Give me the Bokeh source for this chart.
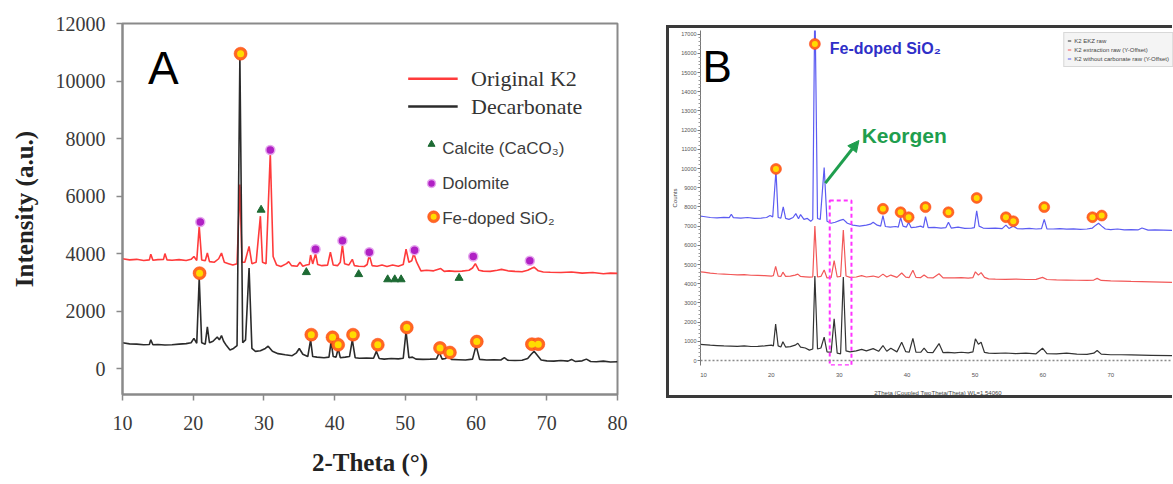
from bokeh.plotting import figure
from bokeh.models import (Range1d, Label, Arrow, NormalHead, Span, Legend, LegendItem,
                          FixedTicker, Spacer)
from bokeh.layouts import row, column
from bokeh.embed import file_html
from bokeh.resources import INLINE

# ---------------- Panel A data ----------------
a_red_x = [10, 11, 12, 13, 13.8, 14.0, 14.3, 15, 15.8, 16.0, 16.3, 17, 18, 19, 19.7, 20.1, 20.5, 20.85,
           21.2, 21.7, 22.0, 22.3, 23.0, 23.6, 24.0, 24.4, 25.0, 25.6, 26.2,
           26.6, 26.9, 27.3, 27.9, 28.3, 28.9, 29.5, 29.8, 30.3, 30.9, 31.3, 31.8, 32.4, 33.2, 33.5,
           33.9, 34.7, 35.1, 35.5, 36.0,
           36.4, 36.6, 36.9, 37.3, 37.6, 38.2, 39.0, 39.4, 39.8, 40.4, 40.8, 41.1, 41.4, 42.0, 42.5,
           42.8, 43.4, 44.2, 44.6, 44.9, 45.3, 46.0, 46.7, 47.4, 48.2, 49.0, 49.7, 50.1, 50.5, 50.9,
           51.2, 51.6, 52.2,
           53.0, 54.0, 55.0, 55.5, 56.2, 57.0, 58.0, 59.0, 59.5, 59.9, 60.4, 61.0, 62.0, 63.0, 63.6,
           64.5, 65.5, 66.5, 67.3, 67.8, 68.2, 68.8, 69.5, 70.5, 72.0, 73.5, 75.0, 76.5, 78.0, 79.0, 80.0]
a_red_y = [3820, 3780, 3800, 3760, 3780, 3980, 3770, 3790, 3800, 4000, 3780, 3770, 3790, 3760, 3800, 3900, 3760, 4950,
           3780, 3750, 4020, 3720, 3700, 3820, 4020, 3700, 3650, 3600, 3650,
           6400, 3700, 3700, 4250, 3650, 3700, 5300, 3700, 3650, 7500, 3900, 3600, 3550, 3650, 3720,
           3580, 3560, 3700, 3560, 3600,
           3620, 3950, 3640, 4000, 3620, 3580, 3600, 4050, 3600, 3580, 3700, 4300, 3650, 3600, 3800,
           3580, 3560, 3550, 3620, 3950, 3580, 3560, 3600, 3550, 3600, 3560, 3620, 4150, 3700, 3750,
           4000, 3700, 3400,
           3420, 3400, 3480, 3380, 3400, 3380, 3390, 3420, 3500, 3650, 3420, 3390, 3380, 3420, 3450,
           3400, 3380, 3370, 3420, 3480, 3530, 3400, 3360, 3350, 3340, 3360, 3320, 3340, 3300, 3320, 3310]

a_blk_x = [10, 11, 12, 13, 13.8, 14.0, 14.3, 15, 16, 17, 18, 19, 19.7, 20.1, 20.5, 20.85, 21.2, 21.7,
           22.0, 22.3, 22.8, 23.4, 23.7, 24.0, 24.3, 24.7, 25.2, 25.7, 26.2,
           26.6, 27.0, 27.4, 27.9, 28.3, 28.8, 29.5, 30.2, 30.6, 31.2, 32.0, 33.0, 34.0, 34.6, 35.0,
           35.5, 36.2, 36.6, 36.9, 37.5, 38.5, 39.2, 39.5, 39.8, 40.2, 40.5, 40.8, 41.5, 42.1, 42.5,
           42.9, 43.5, 44.5, 45.5, 45.9, 46.3, 47.0, 48.0, 49.0, 49.7, 50.1, 50.5, 51.0,
           51.5, 52.5, 53.5, 54.4, 54.8, 55.2, 55.7, 56.1, 56.5, 57.5, 58.5, 59.5, 60.0, 60.5, 61.5,
           62.5, 63.5, 64.0, 64.5, 65.5, 66.5, 67.3, 67.8, 68.2, 68.6, 69.2, 70.0, 71.0, 72.0, 73.0,
           73.5, 74.0, 75.0, 75.6, 76.2, 77.0, 78.0, 79.0, 80.0]
a_blk_y = [900, 860, 850, 830, 840, 1000, 830, 840, 820, 830, 850, 870, 900, 1050, 880, 3150, 900, 850,
           1450, 900, 950, 1100, 1000, 1150, 950, 800, 650, 700, 800,
           10850, 900, 1000, 3500, 700, 600, 620, 700, 780, 600, 520, 480, 450, 550, 700,
           500, 420, 1000, 420, 400, 380, 400, 950, 420, 400, 700, 380, 400, 420, 1000,
           380, 360, 370, 360, 600, 350, 330, 350, 340, 360, 1300, 380, 400,
           330, 320, 330, 340, 560, 330, 350, 480, 320, 310, 300, 330, 800, 320, 300,
           310, 300, 380, 290, 280, 290, 350, 500, 600, 480, 300, 270, 260, 280, 260,
           320, 250, 270, 330, 250, 240, 260, 230, 240]

a_fe_x = [20.9, 26.7, 36.7, 39.7, 40.5, 42.6, 46.1, 50.2, 54.9, 56.3, 60.1, 67.9, 68.8]
a_fe_y = [3320, 10950, 1180, 1090, 830, 1180, 830, 1430, 720, 560, 940, 850, 850]
a_dol_x = [21.0, 30.9, 37.3, 41.1, 44.9, 51.3, 59.6, 67.6]
a_dol_y = [5100, 7600, 4150, 4450, 4050, 4120, 3900, 3750]
a_cal_x = [29.6, 36.0, 43.4, 47.5, 48.5, 49.4, 57.6]
a_cal_y = [5520, 3350, 3280, 3100, 3100, 3100, 3150]

a_xticks = [10, 20, 30, 40, 50, 60, 70, 80]
a_yticks = [0, 2000, 4000, 6000, 8000, 10000, 12000]
a_series = ["Original K2", "Decarbonate"]
a_phases = ["Calcite (CaCO\u2083)", "Dolomite", "Fe-doped SiO\u2082"]

# ---------------- Panel B data ----------------
b_blue_x = [9.56, 10, 11, 12, 13, 13.8, 14.1, 14.4, 15.5, 16.5, 17.5, 18.5, 19.3, 19.8, 20.2, 20.68,
            21.0, 21.4, 21.75, 22.1, 22.6, 23.2, 23.6, 24.0, 24.3, 24.8, 25.3, 25.8, 26.1,
            26.41, 26.8, 27.2, 27.78, 28.2, 28.8, 29.4, 30.1, 30.6, 31.2, 32.0, 33.0, 34.0, 34.6, 35.0,
            35.6, 36.1, 36.44, 36.8, 37.5, 38.3, 38.7, 39.04, 39.4, 39.9, 40.22, 40.6, 41.3, 42.0, 42.4,
            42.71, 43.1, 44.0, 45.0, 45.7, 46.09, 46.5, 47.5, 48.5, 49.5, 49.9, 50.25, 50.6, 51.2,
            52.0, 53.0, 54.0, 54.56, 55.0, 55.64, 56.2, 57.0, 58.0, 59.0, 59.8, 60.2, 60.6, 61.5, 62.5,
            63.5, 64.5, 65.5, 66.5, 67.3, 67.8, 68.2, 68.67, 69.2, 70.0, 71.0, 72.0, 73.0, 74.0, 74.6,
            75.5, 76.5, 79.6]
b_blue_y = [7520, 7500, 7450, 7430, 7460, 7440, 7620, 7440, 7420, 7450, 7400, 7420, 7450, 7550, 7480, 9900,
            7450, 7420, 8000, 7400, 7350, 7450, 7650, 7380, 7600, 7350, 7400, 7250, 7350,
            19000, 7400, 7350, 10050, 7250, 7150, 7200, 7300, 7350, 7150, 7050, 7000, 7050, 7100, 7200,
            7050, 7000, 7550, 6980, 6950, 6980, 6950, 7450, 7000, 6950, 7200, 6920, 6950, 7000, 6930,
            7500, 6920, 6930, 6900, 6920, 7200, 6900, 6950, 6880, 6900, 6920, 7800, 7000, 6900,
            6880, 6900, 6870, 7050, 6880, 7000, 6870, 6860, 6880, 6850, 6870, 7350, 6860, 6850, 6870,
            6840, 6860, 6830, 6850, 6900, 7050, 7150, 7000, 6850, 6820, 6850, 6800, 6820, 6800, 6900,
            6790, 6800, 6770]

b_rb_x = [9.56, 10, 11, 12, 13, 14, 15, 16, 17, 18, 19, 20, 20.3, 20.63, 21.0, 21.4, 21.7, 22.1, 22.8,
          23.5, 23.9, 24.3, 25.0, 25.6, 26.1,
          26.41, 26.8, 27.3, 27.78, 28.2, 28.8, 29.25, 29.7, 30.2, 30.6, 31.0, 31.6, 32.5, 33.3, 34.0,
          35.0, 35.8, 36.44, 37.0, 37.6, 38.5, 39.2, 39.8, 40.3, 40.85, 41.3, 42.0, 42.5, 43.0, 43.8,
          44.7, 45.3, 46.0, 47.0, 48.0, 49.0, 49.7, 50.06, 50.5, 50.9, 51.4,
          52.0, 53.0, 54.5, 56.0, 57.5, 59.0, 59.95, 60.6, 62.0, 63.5, 65.0, 66.5, 67.5, 68.0, 68.6,
          70.0, 71.5, 73.0, 74.5, 76.0, 79.6]
b_red_y = [4620, 4600, 4550, 4520, 4500, 4480, 4460, 4470, 4440, 4430, 4420, 4400, 4420, 4900, 4400,
           4380, 4600, 4380, 4400, 4450, 4500, 4380, 4360, 4340, 4360,
           7000, 4350, 4380, 4720, 4300, 4320, 5200, 4350, 4380, 6800, 4400, 4330, 4350, 4420, 4350,
           4400, 4330, 4500, 4350, 4450, 4330, 4560, 4340, 4320, 4700, 4330, 4320, 4450, 4320, 4300,
           4520, 4300, 4310, 4300, 4320, 4290, 4320, 4620, 4450, 4580, 4330,
           4250, 4240, 4230, 4240, 4220, 4230, 4330, 4220, 4200, 4190, 4180, 4170, 4190, 4280, 4170,
           4150, 4140, 4120, 4110, 4100, 4070]
b_blk_y = [840, 830, 800, 780, 760, 750, 740, 760, 730, 740, 760, 800, 760, 1900, 760,
           700, 980, 700, 720, 800, 900, 700, 650, 540, 600,
           4400, 600, 650, 1220, 450, 420, 2170, 380, 350, 4350, 500, 450, 500, 580, 500,
           620, 480, 780, 480, 640, 450, 950, 460, 430, 1150, 440, 430, 650, 420, 410,
           880, 410, 420, 400, 430, 400, 450, 1130, 850, 950, 420,
           380, 370, 390, 360, 380, 350, 640, 360, 350, 380, 330, 320, 380, 520, 330,
           300, 300, 290, 280, 270, 250]

b_fe_x = [20.68, 26.41, 36.44, 39.04, 40.22, 42.71, 46.09, 50.25, 54.56, 55.64, 60.2, 67.3, 68.67]
b_fe_y = [9980, 16490, 7900, 7725, 7465, 7990, 7725, 8470, 7465, 7255, 7990, 7465, 7550]
b_box_x = [28.6, 31.8]
b_box_y = [-250, 8330]

b_xticks = [10, 20, 30, 40, 50, 60, 70, 80]
b_yticks = [0, 1000, 2000, 3000, 4000, 5000, 6000, 7000, 8000, 9000, 10000, 11000, 12000, 13000,
            14000, 15000, 16000, 17000]
b_series = ["K2 EKZ raw", "K2 extraction raw (Y-Offset)", "K2 without carbonate raw (Y-Offset)"]

# ---------------- styles ----------------
RED_A = "#ff3b3b"
BLK_A = "#2b2b2b"
FRAME = "#8a8a8a"
SERIF = "Liberation Serif"
SANS = "Liberation Sans"
FE_OUT = "#ff6a1f"
FE_IN = "#ffdc00"
DOL = "#b021c4"
CAL = "#1d6a33"
GREEN = "#1f9e4e"


def fe_marker(p, xs, ys, big, small):
    p.scatter(xs, ys, size=big, fill_color=FE_OUT, line_color="#ff3a10", line_alpha=0.5, line_width=1)
    p.scatter(xs, ys, size=small, fill_color=FE_IN, line_color=None)


# ================= Panel A =================
pA = figure(width=666, height=483, x_range=Range1d(10, 80), y_range=Range1d(-900, 12000),
            output_backend="svg", toolbar_location=None,
            min_border_left=122, min_border_right=49, min_border_top=23, min_border_bottom=89)
pA.grid.visible = False
pA.outline_line_color = FRAME
pA.outline_line_width = 2
pA.background_fill_color = "white"
pA.border_fill_color = "white"

for ax in (pA.xaxis[0], pA.yaxis[0]):
    ax.axis_line_color = FRAME
    ax.axis_line_width = 2
    ax.major_tick_line_color = FRAME
    ax.major_tick_line_width = 1.5
    ax.major_tick_in = 0
    ax.major_tick_out = 6
    ax.minor_tick_line_color = None
    ax.major_label_text_font = SERIF
    ax.major_label_text_font_size = "20px"
    ax.major_label_text_color = "#3a3a3a"
    ax.axis_label_text_font = SERIF
    ax.axis_label_text_font_size = "25px"
    ax.axis_label_text_font_style = "bold"
    ax.axis_label_text_color = "#222222"

pA.xaxis.ticker = FixedTicker(ticks=a_xticks)
pA.yaxis.ticker = FixedTicker(ticks=a_yticks)
pA.xaxis.major_label_standoff = 15
pA.xaxis.axis_label_standoff = 16
pA.yaxis.major_label_standoff = 11
pA.yaxis.axis_label_standoff = 15
pA.xaxis.axis_label = "2-Theta (\u00b0)"
pA.yaxis.axis_label = "Intensity (a.u.)"

pA.line(a_red_x, a_red_y, line_color=RED_A, line_width=1.6)
pA.line(a_blk_x, a_blk_y, line_color=BLK_A, line_width=1.6)

pA.scatter(a_cal_x, a_cal_y, marker="triangle", size=8, fill_color=CAL, line_color=CAL)
pA.scatter(a_dol_x, a_dol_y, size=9, fill_color=DOL, line_color="#e6a6ee", line_width=1.5)
fe_marker(pA, a_fe_x, a_fe_y, 13, 7)

# legend (manual, as in the picture)
pA.line([50.4, 57.4], [10080, 10080], line_color=RED_A, line_width=2.5)
pA.line([50.4, 57.4], [9115, 9115], line_color=BLK_A, line_width=2.5)
pA.add_layout(Label(x=59.3, y=10080, text=a_series[0], text_baseline="middle", text_font=SERIF,
                    text_font_size="22px", text_color="#333333"))
pA.add_layout(Label(x=59.3, y=9115, text=a_series[1], text_baseline="middle", text_font=SERIF,
                    text_font_size="22px", text_color="#333333"))
pA.scatter([53.7], [7800], marker="triangle", size=7, fill_color=CAL, line_color=CAL)
pA.scatter([53.7], [6440], size=8, fill_color=DOL, line_color="#e6a6ee", line_width=1.5)
fe_marker(pA, [54.0], [5280], 12, 6)
for yy, t in zip([7650, 6440, 5215], a_phases):
    pA.add_layout(Label(x=55.2, y=yy, text=t, text_baseline="middle", text_font=SANS,
                        text_font_size="17px", text_color="#3c3c3c"))

pA.add_layout(Label(x=13.6, y=10450, text="A", text_baseline="middle", text_font=SANS,
                    text_font_size="46px", text_color="black"))

# ================= Panel B =================
BORDER = "3px solid #3a3a3a"
pB = figure(width=506, height=373, x_range=Range1d(9.56, 79.54), y_range=Range1d(-260, 17190),
            output_backend="svg", toolbar_location=None,
            min_border_left=28, min_border_right=0, min_border_top=2, min_border_bottom=36,
            styles={"border-left": BORDER, "border-top": BORDER, "border-bottom": BORDER,
                    "box-sizing": "border-box"})
pB.grid.visible = False
pB.outline_line_color = None
pB.background_fill_color = "white"
pB.border_fill_color = "white"

pB.xaxis.ticker = FixedTicker(ticks=b_xticks)
pB.yaxis.ticker = FixedTicker(ticks=b_yticks, minor_ticks=[v + 200 * k for v in b_yticks for k in (1, 2, 3, 4)])
for ax in (pB.xaxis[0], pB.yaxis[0]):
    ax.major_label_text_font = SANS
    ax.major_label_text_font_size = "5.5px"
    ax.major_label_text_color = "#555555"
    ax.axis_label_text_font = SANS
    ax.axis_label_text_font_size = "6px"
    ax.axis_label_text_font_style = "normal"
    ax.axis_label_text_color = "#444444"
pB.xaxis.major_label_text_font_size = "6px"
pB.xaxis.axis_line_color = None
pB.xaxis.major_tick_line_color = None
pB.xaxis.minor_tick_line_color = None
pB.xaxis.major_label_standoff = 1
pB.xaxis.axis_label_standoff = 10
pB.xaxis.axis_label = "2Theta (Coupled TwoTheta/Theta) WL=1.54060"
pB.yaxis.axis_line_color = "#777777"
pB.yaxis.major_tick_line_color = "#777777"
pB.yaxis.minor_tick_line_color = "#999999"
pB.yaxis.major_tick_in = 0
pB.yaxis.major_tick_out = 3
pB.yaxis.minor_tick_in = 0
pB.yaxis.minor_tick_out = 2
pB.yaxis.major_label_standoff = 1
pB.yaxis.axis_label_standoff = 0
pB.yaxis.axis_label = "Counts"

pB.add_layout(Span(location=0, dimension="width", line_color="#8a8a8a", line_dash="2 2", line_width=1.5))

r_blk = pB.line(b_rb_x, b_blk_y, line_color="#333333", line_width=1.2)
r_red = pB.line(b_rb_x, b_red_y, line_color="#f25858", line_width=1.2)
r_blue = pB.line(b_blue_x, b_blue_y, line_color="#5c5cf2", line_width=1.2)

pB.quad(left=[b_box_x[0]], right=[b_box_x[1]], bottom=[b_box_y[0]], top=[b_box_y[1]],
        fill_alpha=0, line_color="#ff33ff", line_dash="4 3", line_width=2)

fe_marker(pB, b_fe_x, b_fe_y, 11, 6)

pB.add_layout(Arrow(end=NormalHead(size=11, fill_color=GREEN, line_color=GREEN),
                    x_start=27.95, y_start=9240, x_end=32.9, y_end=11460,
                    line_color=GREEN, line_width=3))
pB.add_layout(Label(x=33.3, y=11720, text="Keorgen", text_baseline="middle", text_font=SANS,
                    text_font_style="bold", text_font_size="21px", text_color=GREEN))
pB.add_layout(Label(x=28.6, y=16250, text="Fe-doped SiO\u2082", text_baseline="middle", text_font=SANS,
                    text_font_style="bold", text_font_size="16px", text_color="#2f2fc8"))
pB.add_layout(Label(x=9.85, y=15315, text="B", text_baseline="middle", text_font=SANS,
                    text_font_size="44px", text_color="black"))

legB = Legend(items=[LegendItem(label=b_series[0], renderers=[r_blk]),
                     LegendItem(label=b_series[1], renderers=[r_red]),
                     LegendItem(label=b_series[2], renderers=[r_blue])],
              location="top_right", label_text_font=SANS, label_text_font_size="6px",
              label_text_color="#444444", glyph_width=4, glyph_height=7, label_height=9,
              label_standoff=3, spacing=0, padding=3, margin=2,
              background_fill_color="#f3f3f3", border_line_color="#bbbbbb")
pB.add_layout(legB)

layout = row(pA, column(Spacer(width=506, height=25), pB))
open("out.html", "w").write(file_html(layout, INLINE))
